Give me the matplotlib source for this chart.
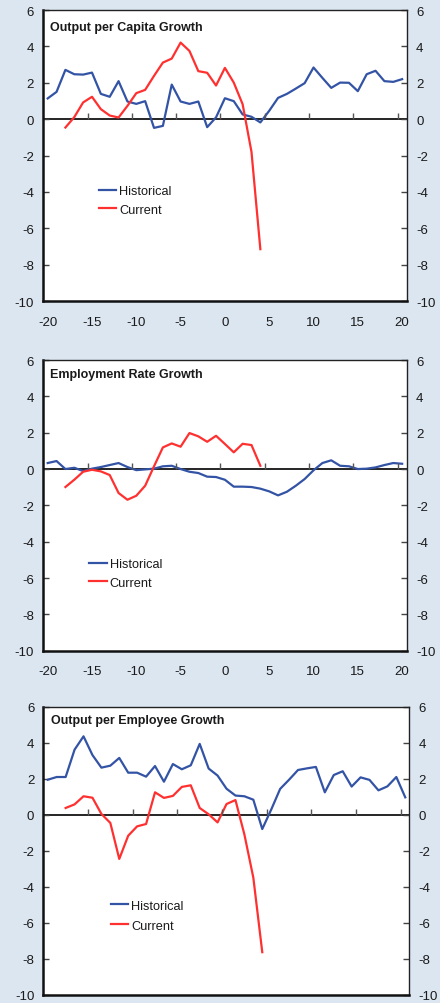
import matplotlib
matplotlib.use("Agg")
import matplotlib.pyplot as plt

plt.rcParams['font.family'] = ['Liberation Sans', 'DejaVu Sans']

# ---- data ----
quarters = list(range(-20, 21))
current_quarters = list(range(-18, 5))

titles = ["Output per Capita Growth", "Employment Rate Growth", "Output per Employee Growth"]

output_capita_hist = [1.14, 1.5, 2.71, 2.47, 2.45, 2.56, 1.39, 1.23, 2.09, 0.97, 0.84, 0.99,
                      -0.48, -0.37, 1.9, 0.97, 0.84, 0.97, -0.44, 0.1, 1.15, 0.99, 0.26, 0.13,
                      -0.18, 0.46, 1.17, 1.39, 1.68, 1.98, 2.84, 2.27, 1.72, 2.01, 2.0, 1.54,
                      2.47, 2.66, 2.09, 2.05, 2.2]
output_capita_curr = [-0.46, 0.11, 0.92, 1.23, 0.55, 0.2, 0.09, 0.73, 1.43, 1.61, 2.38, 3.11,
                      3.33, 4.21, 3.75, 2.64, 2.55, 1.85, 2.82, 2.01, 0.82, -1.8, -7.15]

employment_hist = [0.33, 0.44, 0.0, 0.07, -0.11, 0.02, 0.11, 0.22, 0.33, 0.11, -0.06, -0.02,
                   0.02, 0.15, 0.18, 0.0, -0.15, -0.22, -0.42, -0.44, -0.59, -0.97, -0.97, -0.99,
                   -1.08, -1.23, -1.45, -1.25, -0.92, -0.55, -0.07, 0.33, 0.48, 0.18, 0.15, 0.0,
                   0.02, 0.09, 0.22, 0.33, 0.29]
employment_curr = [-0.99, -0.59, -0.15, -0.04, -0.13, -0.33, -1.32, -1.69, -1.47, -0.92, 0.15,
                   1.19, 1.41, 1.23, 1.98, 1.8, 1.5, 1.83, 1.38, 0.92, 1.39, 1.32, 0.18]

output_employee_hist = [1.94, 2.09, 2.09, 3.61, 4.35, 3.31, 2.61, 2.72, 3.15, 2.33, 2.33, 2.11,
                        2.7, 1.83, 2.81, 2.52, 2.74, 3.93, 2.56, 2.17, 1.44, 1.06, 1.02, 0.83,
                        -0.8, 0.28, 1.43, 1.94, 2.48, 2.57, 2.65, 1.24, 2.2, 2.41, 1.56, 2.07,
                        1.93, 1.35, 1.57, 2.09, 0.96]
output_employee_curr = [0.37, 0.57, 1.02, 0.94, 0.04, -0.46, -2.46, -1.17, -0.65, -0.52, 1.24,
                        0.93, 1.04, 1.54, 1.63, 0.37, 0.02, -0.43, 0.59, 0.81, -1.1, -3.5, -7.64]

x_tick_labels = [-20, -15, -10, -5, 0, 5, 10, 15, 20]
zero_line_ticks = [-15.5, -10.5, -5.5, -0.5, 4.5, 9.5, 14.5, 19.5]
y_ticks = [-10, -8, -6, -4, -2, 0, 2, 4, 6]

# ---- style ----
bg = '#dce6f1'
blue = '#3353a5'
red = '#ff3030'
txt = '#1a1a1a'

fig = plt.figure(figsize=(4.4, 10.04), dpi=100, facecolor=bg)

panels = [
    dict(rect=[0.0973, 0.6992, 0.8277, 0.2898], xlim=(-20.55, 20.55),
         hist=output_capita_hist, curr=output_capita_curr, xlabels=True,
         leg=(0.153, 0.398), title_y=0.931, lsp=0.5),
    dict(rect=[0.0973, 0.3509, 0.8277, 0.2895], xlim=(-20.55, 20.55),
         hist=employment_hist, curr=employment_curr, xlabels=True,
         leg=(0.128, 0.318), title_y=0.940, lsp=0.5),
    dict(rect=[0.0984, 0.0083, 0.8318, 0.2869], xlim=(-20.5, 20.45),
         hist=output_employee_hist, curr=output_employee_curr, xlabels=False,
         leg=(0.185, 0.329), title_y=0.944, lsp=0.6),
]

for title, p in zip(titles, panels):
    ax = fig.add_axes(p['rect'])
    ax.set_facecolor('white')
    ax.set_xlim(p['xlim'])
    ax.set_ylim(-10, 6)
    ax.axhline(0, color='black', lw=1.2, zorder=1)
    ax.plot(quarters, p['hist'], color=blue, lw=1.6, label='Historical', zorder=3)
    ax.plot(current_quarters, p['curr'], color=red, lw=1.6, label='Current', zorder=4)

    ax.set_yticks(y_ticks)
    ax.set_yticklabels([str(v) for v in y_ticks])
    ax.tick_params(axis='y', direction='in', left=True, right=True, labelleft=True,
                   labelright=True, length=4, width=1, pad=6.5, labelsize=9.5,
                   labelcolor=txt, color='#444444')
    ax.set_xticks(x_tick_labels)
    if p['xlabels']:
        ax.set_xticklabels([str(v) for v in x_tick_labels])
    else:
        ax.set_xticklabels([])
    ax.tick_params(axis='x', length=0, pad=10.5, labelsize=9.5, labelcolor=txt)

    for side in ['top', 'right']:
        ax.spines[side].set_linewidth(1.0)
        ax.spines[side].set_color('#222222')
    for side in ['left', 'bottom']:
        ax.spines[side].set_linewidth(1.8)
        ax.spines[side].set_color('#111111')

    # tick marks on the zero line
    tw = ax.twiny()
    tw.set_xlim(p['xlim'])
    for s in tw.spines.values():
        s.set_visible(False)
    tw.spines['top'].set_position(('data', 0))
    tw.set_xticks(zero_line_ticks)
    tw.tick_params(axis='x', top=True, bottom=False, labeltop=False, labelbottom=False,
                   direction='out', length=4, width=1, color='#555555')

    ax.text(0.021, p['title_y'], title, transform=ax.transAxes, fontsize=9,
            fontweight='bold', color=txt, va='baseline', ha='left')

    ax.legend(loc='upper left', bbox_to_anchor=p['leg'], frameon=False, borderaxespad=0,
              borderpad=0, handlelength=1.35, handletextpad=0.25, labelspacing=p['lsp'],
              fontsize=9.2, labelcolor=txt)

fig.savefig('out.png', dpi=100, facecolor=bg)
